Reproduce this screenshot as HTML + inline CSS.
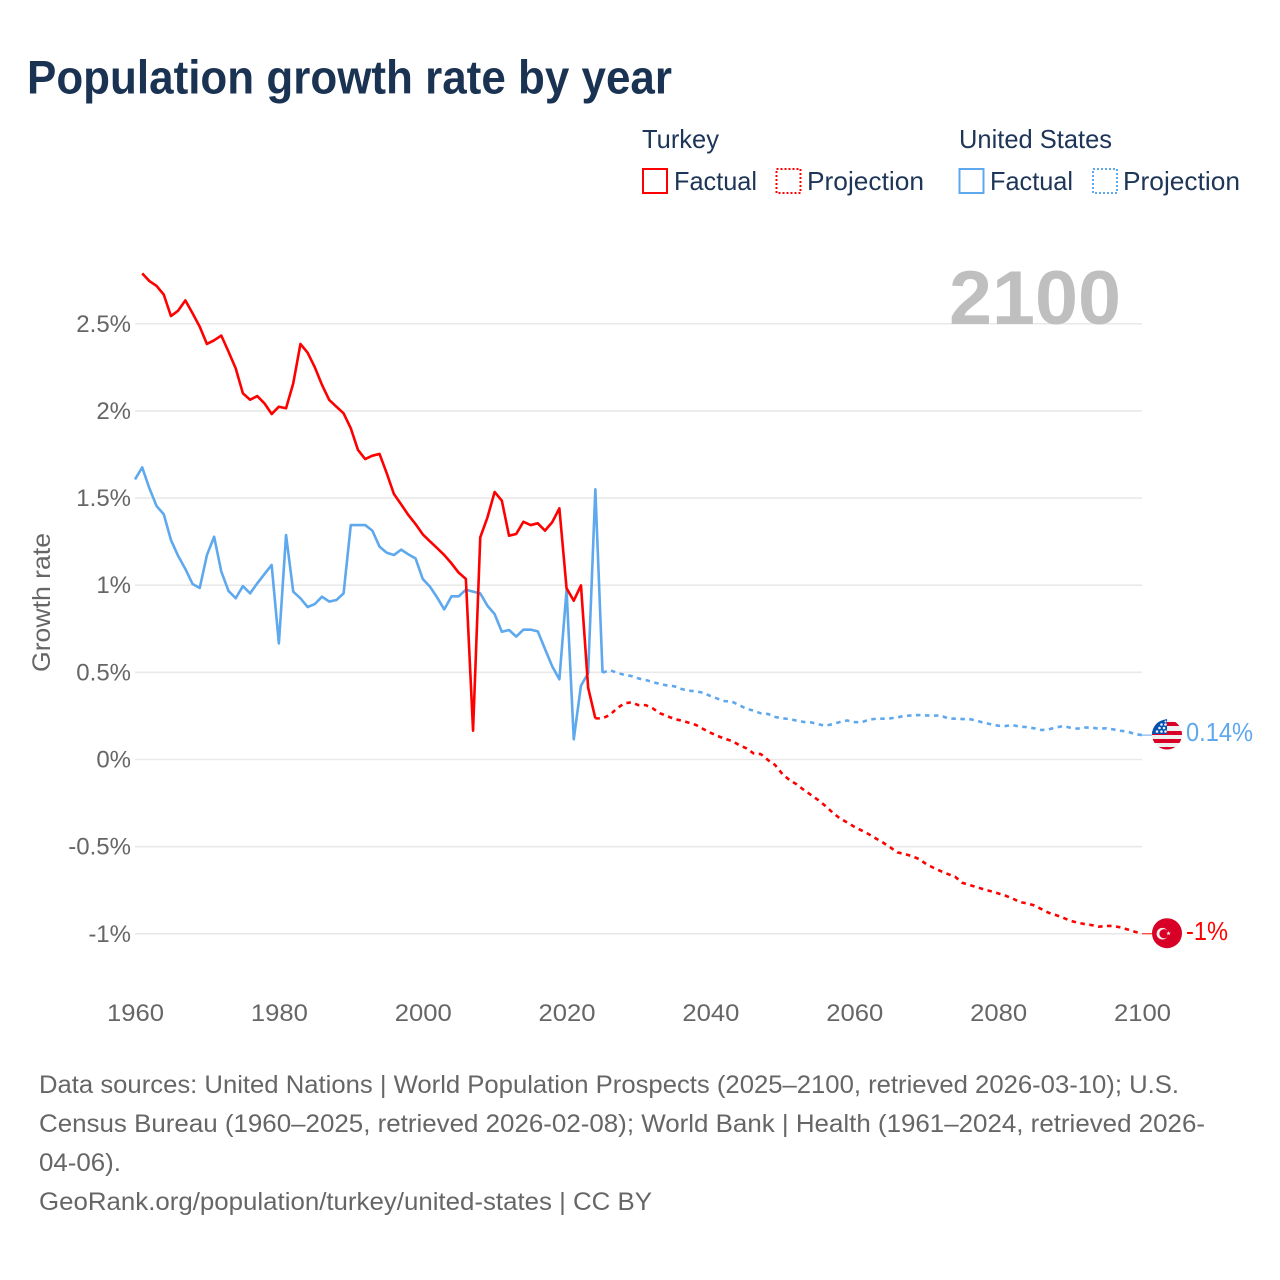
<!DOCTYPE html>
<html lang="en">
<head>
<meta charset="utf-8">
<title>Population growth rate by year</title>
<style>
  html, body { margin: 0; padding: 0; background: #fff; }
  svg { display: block; font-family: "Liberation Sans", sans-serif; }
</style>
</head>
<body>
<svg id="chart" xmlns="http://www.w3.org/2000/svg" width="1280" height="1280" viewBox="0 0 1280 1280">
  <rect width="1280" height="1280" fill="#ffffff"/>
  <text x="27" y="93.5" font-size="47" font-weight="700" fill="#1a3352" textLength="645" lengthAdjust="spacingAndGlyphs">Population growth rate by year</text>

  <g font-size="26" fill="#1d3557">
    <text x="642" y="148" textLength="77" lengthAdjust="spacingAndGlyphs">Turkey</text>
    <text x="959" y="148" textLength="153" lengthAdjust="spacingAndGlyphs">United States</text>

    <rect x="643" y="169" width="24" height="24" fill="none" stroke="#ff0000" stroke-width="2"/>
    <text x="674" y="190" textLength="83" lengthAdjust="spacingAndGlyphs">Factual</text>
    <rect x="776.5" y="169" width="24" height="24" fill="none" stroke="#ff0000" stroke-width="2" stroke-dasharray="2 2"/>
    <text x="807" y="190" textLength="117" lengthAdjust="spacingAndGlyphs">Projection</text>

    <rect x="959.5" y="169" width="24" height="24" fill="none" stroke="#5ea8ee" stroke-width="2"/>
    <text x="990" y="190" textLength="83" lengthAdjust="spacingAndGlyphs">Factual</text>
    <rect x="1093" y="169" width="24" height="24" fill="none" stroke="#5ea8ee" stroke-width="2" stroke-dasharray="2 2"/>
    <text x="1123" y="190" textLength="117" lengthAdjust="spacingAndGlyphs">Projection</text>
  </g>

  <g id="grid"></g>
  <g id="y-ticks" font-size="24" fill="#666666" text-anchor="end"></g>
  <g id="x-ticks" font-size="24" fill="#666666" text-anchor="middle"></g>

  <text transform="translate(50 602.5) rotate(-90)" font-size="25" fill="#666666" text-anchor="middle" textLength="139" lengthAdjust="spacingAndGlyphs">Growth rate</text>

  <text x="949" y="324" font-size="76" font-weight="700" fill="#bfbfbf" textLength="172" lengthAdjust="spacingAndGlyphs">2100</text>

  <g id="series" fill="none" stroke-linejoin="round"></g>

  <g id="flag-us">
    <clipPath id="clip-us"><circle cx="0" cy="0" r="15"/></clipPath>
    <g clip-path="url(#clip-us)">
      <rect x="-15" y="-15" width="30" height="30" fill="#f0f0f0"/>
      <rect x="-15" y="-12.5" width="30" height="4" fill="#d80027"/>
      <rect x="-15" y="-3.5" width="30" height="4" fill="#d80027"/>
      <rect x="-15" y="4.5" width="30" height="4" fill="#d80027"/>
      <rect x="-15" y="12.5" width="30" height="3" fill="#d80027"/>
    </g>
    <path d="M-15 -0.5 A15 15 0 0 1 -3 -14.7 L0 -15.5 L0 -0.5 Z" fill="#0052b4"/>
    <g fill="#f0f0f0">
      <circle cx="-10" cy="-3" r="1.3"/><circle cx="-5.5" cy="-3" r="1.3"/><circle cx="-1.5" cy="-3" r="1.3"/>
      <circle cx="-7.5" cy="-6.5" r="1.3"/><circle cx="-3" cy="-6.5" r="1.3"/>
      <circle cx="-5.5" cy="-10" r="1.3"/><circle cx="-1.5" cy="-10" r="1.3"/><circle cx="-1.5" cy="-13" r="1"/>
    </g>
  </g>

  <g id="flag-tr">
    <circle cx="0" cy="0" r="15" fill="#d80027"/>
    <circle cx="-4.6" cy="0.5" r="5.8" fill="#f0f0f0"/>
    <circle cx="-3" cy="0.5" r="4.6" fill="#d80027"/>
    <polygon points="1.5,-2.2 2.1,-0.6 3.8,-0.7 2.5,0.4 3,2 1.5,1.1 0.1,2 0.6,0.4 -0.7,-0.7 1,-0.6" fill="#f0f0f0"/>
  </g>

  <g id="end-labels" font-size="26"></g>

  <g font-size="25" fill="#666666">
    <text x="39" y="1093" textLength="1140" lengthAdjust="spacingAndGlyphs">Data sources: United Nations | World Population Prospects (2025–2100, retrieved 2026-03-10); U.S.</text>
    <text x="39" y="1132" textLength="1166" lengthAdjust="spacingAndGlyphs">Census Bureau (1960–2025, retrieved 2026-02-08); World Bank | Health (1961–2024, retrieved 2026-</text>
    <text x="39" y="1171" textLength="82" lengthAdjust="spacingAndGlyphs">04-06).</text>
    <text x="39" y="1210" textLength="613" lengthAdjust="spacingAndGlyphs">GeoRank.org/population/turkey/united-states | CC BY</text>
  </g>
</svg>

<script>
const xTickYears = [1960, 1980, 2000, 2020, 2040, 2060, 2080, 2100];
const yTickValues = [2.5, 2, 1.5, 1, 0.5, 0, -0.5, -1];
const yTickLabels = ['2.5%', '2%', '1.5%', '1%', '0.5%', '0%', '-0.5%', '-1%'];

const turkeyFactualStartYear = 1961;
const turkeyFactual = [
  2.789, 2.745, 2.717, 2.667, 2.544, 2.575, 2.634, 2.560, 2.483, 2.384,
  2.405, 2.432, 2.340, 2.244, 2.101, 2.064, 2.085, 2.043, 1.982, 2.024,
  2.015, 2.158, 2.384, 2.334, 2.250, 2.149, 2.063, 2.024, 1.986, 1.900,
  1.776, 1.724, 1.743, 1.753, 1.642, 1.523, 1.464, 1.403, 1.351, 1.292,
  1.252, 1.213, 1.173, 1.125, 1.072, 1.036, 0.165, 1.275, 1.389, 1.535,
  1.485, 1.284, 1.294, 1.364, 1.345, 1.355, 1.313, 1.361, 1.441, 0.982,
  0.911, 0.999, 0.412, 0.236
];

const turkeyProjectionStartYear = 2024;
const turkeyProjection = [
  0.236, 0.236, 0.255, 0.293, 0.322, 0.328, 0.312, 0.312, 0.293, 0.265, 0.249,
  0.232, 0.223, 0.211, 0.198, 0.175, 0.154, 0.135, 0.119, 0.106, 0.083,
  0.064, 0.035, 0.031, -0.003, -0.032, -0.083, -0.118, -0.143, -0.175, -0.204,
  -0.233, -0.267, -0.305, -0.338, -0.361, -0.386, -0.407, -0.428, -0.453, -0.477,
  -0.504, -0.533, -0.542, -0.554, -0.571, -0.600, -0.621, -0.640, -0.657, -0.672,
  -0.707, -0.720, -0.732, -0.745, -0.756, -0.768, -0.781, -0.797, -0.818, -0.825,
  -0.837, -0.858, -0.879, -0.892, -0.907, -0.925, -0.936, -0.944, -0.950, -0.959,
  -0.955, -0.955, -0.963, -0.975, -0.988, -1.0
];

const usFactualStartYear = 1960;
const usFactual = [
  1.607, 1.676, 1.556, 1.454, 1.407, 1.259, 1.168, 1.093, 1.007, 0.984,
  1.173, 1.278, 1.078, 0.967, 0.925, 0.995, 0.953, 1.011, 1.064, 1.116,
  0.666, 1.288, 0.963, 0.925, 0.875, 0.892, 0.934, 0.906, 0.915, 0.953,
  1.345, 1.345, 1.345, 1.313, 1.221, 1.186, 1.173, 1.204, 1.177, 1.154,
  1.036, 0.992, 0.930, 0.861, 0.936, 0.936, 0.974, 0.963, 0.953, 0.882,
  0.834, 0.733, 0.743, 0.705, 0.745, 0.745, 0.735, 0.634, 0.535, 0.460,
  0.974, 0.116, 0.424, 0.494, 1.550, 0.498
];

const usProjectionStartYear = 2025;
const usProjection = [
  0.498, 0.513, 0.498, 0.486, 0.479, 0.465, 0.456, 0.444, 0.433, 0.425, 0.420,
  0.404, 0.395, 0.391, 0.383, 0.364, 0.349, 0.335, 0.332, 0.312, 0.291,
  0.280, 0.265, 0.261, 0.244, 0.236, 0.232, 0.223, 0.215, 0.213, 0.202,
  0.194, 0.203, 0.215, 0.224, 0.215, 0.213, 0.228, 0.234, 0.234, 0.236,
  0.242, 0.250, 0.253, 0.255, 0.253, 0.251, 0.253, 0.236, 0.234, 0.232,
  0.232, 0.223, 0.211, 0.202, 0.194, 0.192, 0.198, 0.188, 0.186, 0.179,
  0.169, 0.173, 0.183, 0.192, 0.183, 0.177, 0.183, 0.183, 0.177, 0.179,
  0.173, 0.165, 0.160, 0.146, 0.140
];

const endLabelTexts = ['0.14%', '-1%'];

const SVG_NS = 'http://www.w3.org/2000/svg';
const RED = '#ff0000';
const BLUE = '#5ea8ee';

function xScale(year) {
  return 135 + (year - 1960) * (1142 - 135) / 140;
}
function yScale(value) {
  return 759.5 - value * 174.3;
}
function makeEl(tag, parent) {
  const el = document.createElementNS(SVG_NS, tag);
  parent.appendChild(el);
  return el;
}
function linePath(values, startYear) {
  return values.map(function (v, i) {
    return (i ? 'L' : 'M') + xScale(startYear + i).toFixed(2) + ' ' + yScale(v).toFixed(2);
  }).join(' ');
}

const gridGroup = document.getElementById('grid');
const yTickGroup = document.getElementById('y-ticks');
yTickValues.forEach(function (v, i) {
  const line = makeEl('line', gridGroup);
  
  
  line.setAttribute('x1', xScale(1960));
  line.setAttribute('x2', xScale(2100));
  line.setAttribute('y1', yScale(v));
  line.setAttribute('y2', yScale(v));
  line.setAttribute('stroke', '#e9e9e9');
  line.setAttribute('stroke-width', '1.6');

  const label = makeEl('text', yTickGroup);
  
  
  label.setAttribute('x', 131);
  label.setAttribute('y', yScale(v) + 8);
  label.textContent = yTickLabels[i];
});

const xTickGroup = document.getElementById('x-ticks');
xTickYears.forEach(function (year) {
  const label = makeEl('text', xTickGroup);
  
  
  label.setAttribute('x', xScale(year) + 0.5);
  label.setAttribute('y', 1021);
  label.setAttribute('textLength', '57');
  label.setAttribute('lengthAdjust', 'spacingAndGlyphs');
  label.textContent = String(year);
});

const seriesGroup = document.getElementById('series');

const usFactualLine = makeEl('path', seriesGroup);


usFactualLine.setAttribute('d', linePath(usFactual, usFactualStartYear));
usFactualLine.setAttribute('stroke', BLUE);
usFactualLine.setAttribute('stroke-width', '2.6');

const usProjectionLine = makeEl('path', seriesGroup);


usProjectionLine.setAttribute('d', linePath(usProjection, usProjectionStartYear));
usProjectionLine.setAttribute('stroke', BLUE);
usProjectionLine.setAttribute('stroke-width', '2.6');
usProjectionLine.setAttribute('stroke-dasharray', '4.5 4.5');

const turkeyFactualLine = makeEl('path', seriesGroup);


turkeyFactualLine.setAttribute('d', linePath(turkeyFactual, turkeyFactualStartYear));
turkeyFactualLine.setAttribute('stroke', RED);
turkeyFactualLine.setAttribute('stroke-width', '2.6');

const turkeyProjectionLine = makeEl('path', seriesGroup);


turkeyProjectionLine.setAttribute('d', linePath(turkeyProjection, turkeyProjectionStartYear));
turkeyProjectionLine.setAttribute('stroke', RED);
turkeyProjectionLine.setAttribute('stroke-width', '2.6');
turkeyProjectionLine.setAttribute('stroke-dasharray', '4.5 4.5');

const usEndY = yScale(usProjection[usProjection.length - 1]);
const trEndY = yScale(turkeyProjection[turkeyProjection.length - 1]);
const endX = xScale(2100);

const usConnector = makeEl('line', seriesGroup);


usConnector.setAttribute('x1', endX);
usConnector.setAttribute('x2', endX + 10);
usConnector.setAttribute('y1', usEndY);
usConnector.setAttribute('y2', usEndY);
usConnector.setAttribute('stroke', BLUE);
usConnector.setAttribute('stroke-width', '1');

const trConnector = makeEl('line', seriesGroup);


trConnector.setAttribute('x1', endX);
trConnector.setAttribute('x2', endX + 10);
trConnector.setAttribute('y1', trEndY);
trConnector.setAttribute('y2', trEndY);
trConnector.setAttribute('stroke', RED);
trConnector.setAttribute('stroke-width', '1');

document.getElementById('flag-us').setAttribute('transform', 'translate(' + (endX + 25) + ' ' + (usEndY - 0.6) + ')');
document.getElementById('flag-tr').setAttribute('transform', 'translate(' + (endX + 25) + ' ' + (trEndY - 0.6) + ')');

const endLabelGroup = document.getElementById('end-labels');

const usEndLabel = makeEl('text', endLabelGroup);


usEndLabel.setAttribute('x', endX + 44);
usEndLabel.setAttribute('y', usEndY + 6);
usEndLabel.setAttribute('fill', BLUE);
usEndLabel.setAttribute('textLength', '67');
usEndLabel.setAttribute('lengthAdjust', 'spacingAndGlyphs');
usEndLabel.textContent = endLabelTexts[0];

const trEndLabel = makeEl('text', endLabelGroup);


trEndLabel.setAttribute('x', endX + 44);
trEndLabel.setAttribute('y', trEndY + 6);
trEndLabel.setAttribute('fill', RED);
trEndLabel.setAttribute('textLength', '42');
trEndLabel.setAttribute('lengthAdjust', 'spacingAndGlyphs');
trEndLabel.textContent = endLabelTexts[1];
</script>
</body>
</html>
